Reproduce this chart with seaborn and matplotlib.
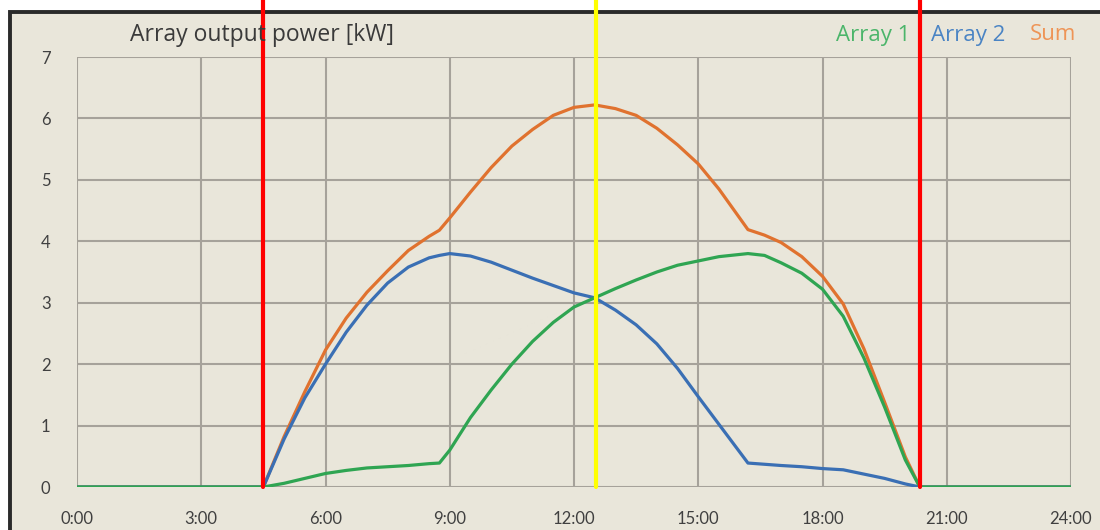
import matplotlib
matplotlib.use("Agg")
import pandas as pd
import matplotlib.pyplot as plt
import seaborn as sns
from matplotlib.patches import Rectangle

# Hora do dia (h) e potência de saída (kW)
horas = [0, 4.5, 5.0, 5.5, 6.0, 6.5, 7.0, 7.5, 8.0, 8.5, 8.75, 9.0, 9.5, 10.0, 10.5,
         11.0, 11.5, 12.0, 12.5, 13.0, 13.5, 14.0, 14.5, 15.0, 15.5, 16.2, 16.6,
         17.0, 17.5, 18.0, 18.5, 19.0, 19.5, 20.0, 20.35, 24]
array1 = [0, 0, 0.06, 0.14, 0.22, 0.27, 0.31, 0.33, 0.35, 0.38, 0.39, 0.60, 1.13, 1.58, 2.00,
          2.37, 2.68, 2.93, 3.08, 3.23, 3.37, 3.50, 3.61, 3.68, 3.75, 3.80, 3.77,
          3.65, 3.48, 3.22, 2.78, 2.10, 1.30, 0.44, 0, 0]
array2 = [0, 0, 0.78, 1.45, 2.00, 2.52, 2.96, 3.32, 3.58, 3.73, 3.77, 3.80, 3.76, 3.66, 3.53,
          3.40, 3.28, 3.16, 3.08, 2.88, 2.64, 2.33, 1.93, 1.47, 1.02, 0.39, 0.37,
          0.35, 0.33, 0.30, 0.28, 0.21, 0.14, 0.05, 0, 0]
soma = [0, 0, 0.82, 1.55, 2.23, 2.75, 3.17, 3.52, 3.85, 4.08, 4.18, 4.38, 4.80, 5.20, 5.55,
        5.82, 6.05, 6.18, 6.22, 6.16, 6.05, 5.84, 5.57, 5.26, 4.85, 4.19, 4.10,
        3.98, 3.75, 3.43, 2.98, 2.25, 1.38, 0.49, 0, 0]

# Marcadores verticais (nascer, meio-dia solar, pôr do sol)
nascer = 4.5
meio_dia = 12.52
por_do_sol = 20.35

x_ticks = [0, 3, 6, 9, 12, 15, 18, 21, 24]
x_labels = ["0:00", "3:00", "6:00", "9:00", "12:00", "15:00", "18:00", "21:00", "24:00"]
y_ticks = [0, 1, 2, 3, 4, 5, 6, 7]

df = pd.DataFrame({
    "hora": horas * 3,
    "kW": array1 + array2 + soma,
    "serie": ["Array 1"] * len(horas) + ["Array 2"] * len(horas) + ["Sum"] * len(horas),
})

cores = {"Array 1": "#2fa552", "Array 2": "#3a6fb4", "Sum": "#e0722f"}
cores_texto = {"Array 1": "#4bb56a", "Array 2": "#4a84c4", "Sum": "#ee9456"}

sns.set_theme(style="white")
plt.rcParams["font.family"] = ["Lato", "DejaVu Sans"]

bege = "#e9e6da"
grade = "#a6a29a"

fig = plt.figure(figsize=(11, 5.3), dpi=100)
fig.patch.set_facecolor("white")

# moldura do painel
moldura = Rectangle((10 / 1100, -0.1), 1.2, 0.1 + 518 / 530, transform=fig.transFigure,
                    facecolor=bege, edgecolor="#2a2a2a", linewidth=2.8, zorder=0)
fig.add_artist(moldura)

ax = fig.add_axes([77 / 1100, 43 / 530, 994 / 1100, 430 / 530])
ax.set_facecolor("none")

sns.lineplot(data=df, x="hora", y="kW", hue="serie", hue_order=["Sum", "Array 2", "Array 1"],
             palette=cores, linewidth=2.3, legend=False, ax=ax, solid_joinstyle="round")

ax.set_xlim(0, 24)
ax.set_ylim(0, 7)
ax.set_xticks(x_ticks)
ax.set_xticklabels(x_labels)
ax.set_yticks(y_ticks)
ax.set_xlabel("")
ax.set_ylabel("")
ax.set_axisbelow(True)
ax.grid(True, color=grade, linewidth=1.5)
for s in ax.spines.values():
    s.set_visible(False)
ax.tick_params(axis="both", length=5, width=1.5, color=grade, labelcolor="#404040", labelsize=12)
ax.tick_params(axis="x", pad=12)
ax.tick_params(axis="y", pad=14)

topo = 1 + 57 / 430
for h, cor in [(nascer, "#ff0000"), (meio_dia, "#ffff00"), (por_do_sol, "#ff0000")]:
    ax.axvline(h, ymin=0, ymax=topo, color=cor, linewidth=3, clip_on=False, zorder=5)

fig.text(130 / 1100, 1 - 35 / 530, "Array output power [kW]", ha="left", va="center",
         fontsize=16.5, color="#3a3a3a", family=["Open Sans", "DejaVu Sans"])
for nome, xp in [("Array 1", 836), ("Array 2", 931), ("Sum", 1030)]:
    fig.text(xp / 1100, 1 - 35 / 530, nome, ha="left", va="center", fontsize=16,
             color=cores_texto[nome], family=["Open Sans", "DejaVu Sans"])

fig.savefig("out.png", dpi=100)
